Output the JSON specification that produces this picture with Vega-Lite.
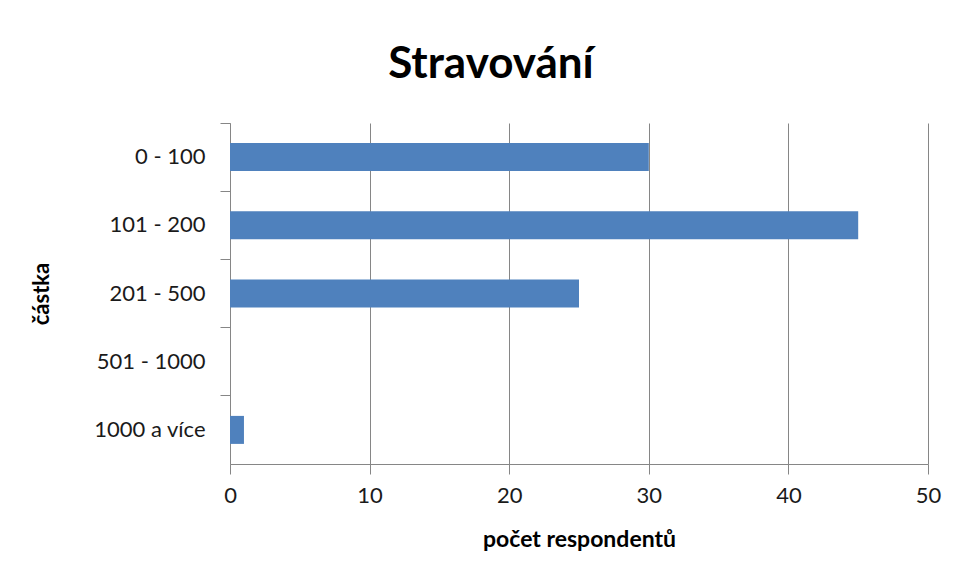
{
  "$schema": "https://vega.github.io/schema/vega-lite/v6.json",
  "width": 698,
  "height": 341,
  "autosize": {"type": "none"},
  "padding": {"left": 230, "top": 123, "right": 29, "bottom": 117},
  "background": "white",
  "title": {
    "text": "Stravování",
    "font": "Lato",
    "fontSize": 44,
    "fontWeight": "bold",
    "color": "#000000",
    "anchor": "middle",
    "frame": "group",
    "dx": -88,
    "baseline": "alphabetic",
    "offset": 1
  },
  "data": {
    "values": [
      {"castka": "0 - 100", "pocet": 30},
      {"castka": "101 - 200", "pocet": 45},
      {"castka": "201 - 500", "pocet": 25},
      {"castka": "501 - 1000", "pocet": 0},
      {"castka": "1000 a více", "pocet": 1}
    ]
  },
  "config": {
    "view": {"stroke": null},
    "axis": {"labelFont": "Lato", "titleFont": "Lato", "labelColor": "#1a1a1a", "titleColor": "#000000"}
  },
  "resolve": {"axis": {"y": "independent"}},
  "layer": [
    {
      "mark": {"type": "bar", "color": "#4F81BD", "size": 28},
      "encoding": {
        "y": {
          "field": "castka",
          "type": "nominal",
          "sort": null,
          "scale": {"paddingInner": 0, "paddingOuter": 0},
          "axis": {
            "bandPosition": 0,
            "labels": false,
            "ticks": true,
            "tickSize": 10,
            "tickColor": "#868686",
            "domainColor": "#868686",
            "grid": false,
            "title": null
          }
        },
        "x": {
          "field": "pocet",
          "type": "quantitative",
          "scale": {"domain": [0, 50], "nice": false},
          "axis": {
            "values": [0, 10, 20, 30, 40, 50],
            "grid": true,
            "gridColor": "#868686",
            "domainColor": "#868686",
            "tickColor": "#868686",
            "tickSize": 10,
            "labelFontSize": 22,
            "labelPadding": 11,
            "labelFlush": false,
            "title": "počet respondentů",
            "titleFontSize": 23,
            "titleFontWeight": "bold",
            "titlePadding": 22
          }
        }
      }
    },
    {
      "mark": {"type": "bar", "opacity": 0},
      "encoding": {
        "y": {
          "field": "castka",
          "type": "nominal",
          "sort": null,
          "axis": {
            "orient": "left",
            "ticks": false,
            "domain": false,
            "grid": false,
            "labelFontSize": 22,
            "labelPadding": 25,
            "title": "částka",
            "titleFontSize": 22,
            "titleFontWeight": "bold",
            "titlePadding": 40
          }
        },
        "x": {"field": "pocet", "type": "quantitative"}
      }
    }
  ]
}
